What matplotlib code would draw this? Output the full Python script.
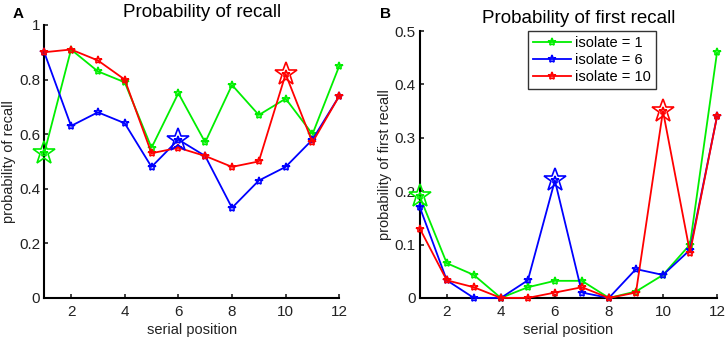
import numpy as np
import matplotlib
matplotlib.use('Agg')
import matplotlib.pyplot as plt

plt.rcParams['font.family'] = ['Liberation Sans', 'DejaVu Sans']

pos = np.arange(1, 13)
labels = ['isolate = 1', 'isolate = 6', 'isolate = 10']
colors = ['#00ee00', '#0000ff', '#ff0000']
isolates = [1, 6, 10]

# panel A: probability of recall
recallG = [0.53, 0.91, 0.83, 0.79, 0.55, 0.75, 0.57, 0.78, 0.67, 0.73, 0.60, 0.85]
recallB = [0.90, 0.63, 0.68, 0.64, 0.48, 0.58, 0.52, 0.33, 0.43, 0.48, 0.58, 0.74]
recallR = [0.90, 0.91, 0.87, 0.80, 0.53, 0.55, 0.52, 0.48, 0.50, 0.82, 0.57, 0.74]

# panel B: probability of first recall
firstG = [0.19, 0.065, 0.043, 0.0, 0.02, 0.032, 0.032, 0.0, 0.012, 0.043, 0.10, 0.46]
firstB = [0.17, 0.033, 0.0, 0.0, 0.033, 0.22, 0.01, 0.0, 0.054, 0.043, 0.09, 0.34]
firstR = [0.13, 0.033, 0.02, 0.0, 0.0, 0.01, 0.02, 0.0, 0.01, 0.35, 0.085, 0.34]

fig = plt.figure(figsize=(7.25, 3.37), dpi=100)
axA = fig.add_axes([0.061, 0.116, 0.407, 0.810])
axB = fig.add_axes([0.579, 0.116, 0.410, 0.792])

def drawPanel(ax, series, ylim, yticks, yticklabels, title, ylabel):
    for vals, c, lab, iso in zip(series, colors, labels, isolates):
        ax.plot(pos, vals, color=c, lw=1.3, marker='*', ms=6, mfc='none',
                mew=1.2, label=lab, clip_on=False, zorder=3)
        ax.plot(pos[iso - 1], vals[iso - 1], marker='*', ms=17, mfc='none',
                mec=c, mew=1.2, ls='none', clip_on=False, zorder=4)
    ax.set_xlim(1, 12)
    ax.set_ylim(*ylim)
    ax.set_xticks([2, 4, 6, 8, 10, 12])
    ax.set_yticks(yticks)
    ax.set_yticklabels(yticklabels)
    ax.spines['top'].set_visible(False)
    ax.spines['right'].set_visible(False)
    ax.spines['left'].set_linewidth(1.5)
    ax.spines['bottom'].set_linewidth(1.5)
    ax.tick_params(direction='in', length=3, width=1.2, labelsize=11,
                   colors='#222222', pad=3)
    ax.tick_params(axis='x', pad=5)
    ax.set_title(title, fontsize=13.5, pad=6, x=0.535)
    ax.set_xlabel('serial position', fontsize=10.5, labelpad=3, color='#222222')
    ax.set_ylabel(ylabel, fontsize=10.5, labelpad=2, color='#222222')

drawPanel(axA, [recallG, recallB, recallR], (0, 1),
          [0, 0.2, 0.4, 0.6, 0.8, 1], ['0', '0.2', '0.4', '0.6', '0.8', '1'],
          'Probability of recall', 'probability of recall')
drawPanel(axB, [firstG, firstB, firstR], (0, 0.5),
          [0, 0.1, 0.2, 0.3, 0.4, 0.5], ['0', '0.1', '0.2', '0.3', '0.4', '0.5'],
          'Probability of first recall', 'probability of first recall')

leg = axB.legend(loc='upper left', bbox_to_anchor=(0.364, 1.0), fontsize=10.5,
                 handlelength=2.6, handletextpad=0.3, borderpad=0.35,
                 labelspacing=0.2, borderaxespad=0, fancybox=False, framealpha=1)
leg.get_frame().set_edgecolor('#333333')
leg.get_frame().set_linewidth(1.0)

fig.text(0.018, 0.958, 'A', fontsize=11, fontweight='bold', va='center')
fig.text(0.524, 0.958, 'B', fontsize=11, fontweight='bold', va='center')

fig.savefig('out.png', dpi=100)
